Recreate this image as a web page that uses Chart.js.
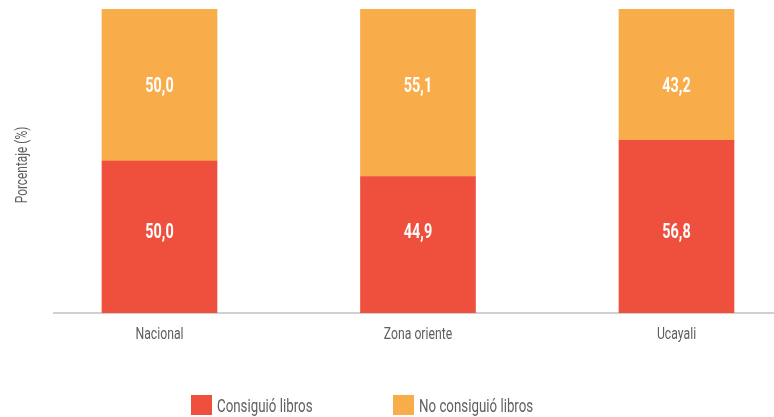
<!DOCTYPE html>
<html>
<head>
<meta charset="utf-8">
<script src="https://cdn.jsdelivr.net/npm/chart.js@4"></script>
<style>
html,body{margin:0;padding:0;background:#fff;}
#wrap{width:774px;height:417px;position:relative;}
</style>
</head>
<body>
<div id="wrap"><canvas id="c" width="774" height="417"></canvas></div>
<script>
const categories = ["Nacional", "Zona oriente", "Ucayali"];
const consiguio = [50.0, 44.9, 56.8];
const noConsiguio = [50.0, 55.1, 43.2];
const seriesNames = ["Consiguió libros", "No consiguió libros"];
const seriesColors = ["#EF4F3D", "#F9AC4A"];
const labelPositions = [27, 75];
const axisTitle = "Porcentaje (%)";

const FONT = "Roboto, 'Liberation Sans', sans-serif";
const SX = 0.72;
const TEXT_COLOR = '#5e5e5e';

function toPoints(arr){ return arr.map((v,i)=>({x:i, y:v})); }

function drawScaled(ctx, text, x, y, font, color, align, rot){
  ctx.save();
  ctx.translate(x, y);
  if (rot) ctx.rotate(rot);
  ctx.scale(SX, 1);
  ctx.font = font;
  ctx.fillStyle = color;
  ctx.textAlign = align;
  ctx.textBaseline = 'alphabetic';
  ctx.fillText(text, 0, 0);
  ctx.restore();
}

const textPlugin = {
  id: 'texts',
  afterDraw(chart){
    const ctx = chart.ctx;
    const xs = chart.scales.x, ys = chart.scales.y;
    const area = chart.chartArea;
    // segment labels
    chart.data.datasets.forEach((ds, di)=>{
      const meta = chart.getDatasetMeta(di);
      meta.data.forEach((el, i)=>{
        const v = ds.data[i].y;
        const y = ys.getPixelForValue(labelPositions[di]) + 7;
        drawScaled(ctx, v.toFixed(1).replace('.', ','), el.x, y, "bold 20px " + FONT, '#ffffff', 'center');
      });
    });
    // category labels
    categories.forEach((c, i)=>{
      drawScaled(ctx, c, xs.getPixelForValue(i), area.bottom + 26, "17px " + FONT, TEXT_COLOR, 'center');
    });
    // y axis title
    drawScaled(ctx, axisTitle, 26.5, (area.top + area.bottom)/2 + 4, "16.5px " + FONT, TEXT_COLOR, 'center', -Math.PI/2);
    // legend
    const lx = [191, 393];
    seriesNames.forEach((n, i)=>{
      ctx.fillStyle = seriesColors[i];
      ctx.fillRect(lx[i], 395, 21, 20);
      drawScaled(ctx, n, lx[i] + 26, 412, "18.5px " + FONT, TEXT_COLOR, 'left');
    });
  }
};

new Chart(document.getElementById('c'), {
  type: 'bar',
  data: {
    datasets: [
      { label: seriesNames[0], data: toPoints(consiguio), backgroundColor: seriesColors[0], barThickness: 115, borderWidth: 0 },
      { label: seriesNames[1], data: toPoints(noConsiguio), backgroundColor: seriesColors[1], barThickness: 115, borderWidth: 0 }
    ]
  },
  options: {
    responsive: false,
    animation: false,
    layout: { padding: { top: 9, right: 0, left: 0, bottom: 0 } },
    plugins: { legend: { display: false }, tooltip: { enabled: false } },
    scales: {
      x: {
        type: 'linear',
        stacked: true,
        offset: false,
        min: -0.4081,
        max: 2.3772,
        grid: { display: false, drawTicks: false },
        border: { display: true, color: '#d0d0d0', width: 2 },
        ticks: { display: false },
        afterFit(s){ s.height = 104; }
      },
      y: {
        stacked: true,
        min: 0,
        max: 100,
        grid: { display: false, drawTicks: false },
        border: { display: false },
        ticks: { display: false },
        afterFit(s){ s.width = 54; }
      }
    }
  },
  plugins: [textPlugin]
});
</script>
</body>
</html>
